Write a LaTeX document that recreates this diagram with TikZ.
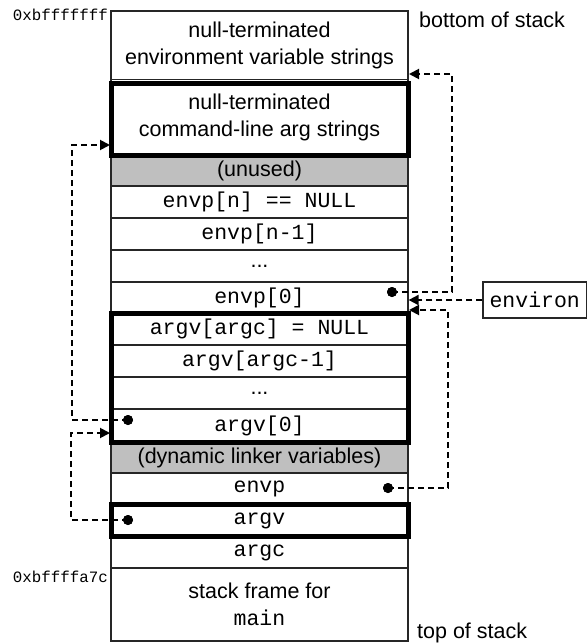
\documentclass[tikz,border=0pt]{standalone}
\usepackage{fontspec}
\setmainfont{Liberation Sans}
\setmonofont{Liberation Mono}
\usetikzlibrary{arrows.meta,calc}
\begin{document}
\begin{tikzpicture}[x=1pt,y=-1pt,
 cell/.style={draw=black!85, line width=1.2pt, minimum width=297pt, inner sep=0pt,
   font=\fontsize{21.5}{27}\selectfont, align=center},
 mono/.style={font=\fontsize{21.5}{26}\ttfamily},
 graycell/.style={fill=black!25},
 thickbox/.style={draw=black, line width=5pt},
 conn/.style={line width=1.9pt, dash pattern=on 6pt off 4pt, -{Triangle[length=10pt,width=10pt]}},
 dotmark/.style={circle, fill=black, inner sep=0pt, minimum size=10pt},
 addr/.style={font=\fontsize{15.8}{18}\ttfamily, inner sep=0pt, anchor=base east},
 side/.style={font=\fontsize{21.5}{24}\selectfont, inner sep=0pt, anchor=base west},
 ptrbox/.style={draw=black!85, line width=1.2pt, minimum width=103.5pt, minimum height=36pt,
   inner sep=0pt, font=\fontsize{21.5}{26}\ttfamily}]
\useasboundingbox (0,0) rectangle (588,643);

% stack cells
\node[cell, minimum height=68.5pt] (envstr) at (259.5,45.25) {null-terminated\\environment variable strings};
\node[cell, minimum height=75.5pt] (cmdstr) at (259.5,117.25) {null-terminated\\command-line arg strings};
\node[cell, graycell, minimum height=31pt] (unused) at (259.5,170.5) {(unused)};
\node[cell, mono, minimum height=32pt] (envpn) at (259.5,202) {envp[n] == NULL};
\node[cell, mono, minimum height=32pt] (envpn1) at (259.5,234) {envp[n-1]};
\node[cell, minimum height=32pt] (envdots) at (259.5,266) {...};
\node[cell, mono, minimum height=31pt] (envp0) at (259.5,297.5) {envp[0]};
\node[cell, mono, minimum height=32pt] (argvargc) at (259.5,329) {argv[argc] = NULL};
\node[cell, mono, minimum height=32pt] (argvargc1) at (259.5,361) {argv[argc-1]};
\node[cell, minimum height=32pt] (argvdots) at (259.5,393) {...};
\node[cell, mono, minimum height=33pt] (argv0) at (259.5,425.5) {argv[0]};
\node[cell, graycell, minimum height=31pt] (dyn) at (259.5,457.5) {(dynamic linker variables)};
\node[cell, mono, minimum height=32pt] (envp) at (259.5,489) {envp};
\node[cell, mono, minimum height=32pt] (argv) at (259.5,521) {argv};
\node[cell, mono, minimum height=31pt] (argc) at (259.5,552.5) {argc};
\node[cell, minimum height=73pt] (frame) at (259.5,604.5) {stack frame for\\{\fontsize{21.5}{27}\ttfamily main}};

% thick boxes
\draw[thickbox] ([xshift=1.5pt,yshift=-5pt]cmdstr.north west) rectangle ([yshift=0.5pt]cmdstr.south east);
\draw[thickbox] ([xshift=1.5pt,yshift=-1.5pt]argvargc.north west) rectangle (argv0.south east);
\draw[thickbox] ([xshift=1.5pt,yshift=-0.5pt]argv.north west) rectangle ([yshift=1pt]argv.south east);

% labels
\node[addr] (addrtop) at (108,20) {0xbfffffff};
\node[addr] (addrmain) at (108,582) {0xbffffa7c};
\node[side] (bottomlbl) at (419,27) {bottom of stack};
\node[side] (toplbl) at (417,638) {top of stack};

% environ pointer box
\node[ptrbox] (environ) at (534.75,300) {environ};

% pointer dots
\node[dotmark] (d1) at (392,292) {};
\node[dotmark] (d2) at (128,420) {};
\node[dotmark] (d3) at (388,488) {};
\node[dotmark] (d4) at (128,520) {};

\coordinate (t1) at (409,74);
\coordinate (t3) at (409,310);
\coordinate (t4) at (110,145);
\coordinate (t5) at (110,433);

% connectors
\draw[conn] (d1.center) -- (452,292) -- (452,74) -- (t1);
\draw[conn] (environ.west) -- (environ.west -| envp0.east);
\draw[conn] (d3.center) -- (448,488) -- (448,310) -- (t3);
\draw[conn] (d2.center) -- (72,420) -- (72,145) -- (t4);
\draw[conn] (d4.center) -- (71,520) -- (71,433) -- (t5);

% redraw dots on top
\fill (d1) circle (5pt);
\fill (d2) circle (5pt);
\fill (d3) circle (5pt);
\fill (d4) circle (5pt);
\end{tikzpicture}
\end{document}
